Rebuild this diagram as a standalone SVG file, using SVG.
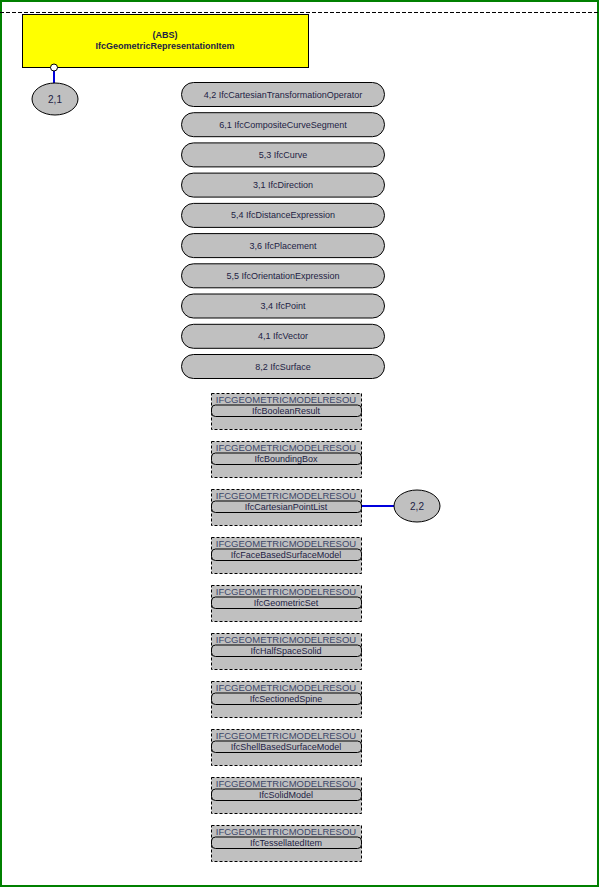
<svg xmlns="http://www.w3.org/2000/svg" width="600" height="888" viewBox="0 0 600 888">
<style>
text{font-family:"Liberation Sans",Arial,sans-serif;font-size:9px;fill:#222244;text-anchor:middle}
.pill{fill:#c0c0c0;stroke:#000;stroke-width:1}
.grp{fill:#c0c0c0;stroke:#000;stroke-width:1;stroke-dasharray:3,2}
.hdr{font-size:9.5px;fill:#3c4668}
.ell{fill:#c0c0c0;stroke:#000;stroke-width:1}
.etx{font-size:10px}
.con{stroke:#0000dd;stroke-width:2;fill:none}
</style>
<rect x="1" y="1" width="597" height="885" fill="#fff" stroke="#008000" stroke-width="2"/>
<line x1="0" y1="12.5" x2="598" y2="12.5" stroke="#000" stroke-dasharray="4,2"/>
<g id="connectors">
<line class="con" x1="54" y1="71" x2="54" y2="84"/>
<line class="con" x1="362" y1="506" x2="394" y2="506"/>
</g>
<g id="IfcGeometricRepresentationItem">
<rect x="22.5" y="14.5" width="286" height="53" fill="#ffff00" stroke="#000"/>
<text x="165" y="38" font-weight="bold">(ABS)</text>
<text x="165" y="49" font-weight="bold">IfcGeometricRepresentationItem</text>
<circle cx="54" cy="67.5" r="3.5" fill="#fff" stroke="#000"/>
</g>
<g id="ref21"><ellipse class="ell" cx="55" cy="99" rx="23" ry="16"/><text class="etx" x="55" y="102.5">2,1</text></g>
<g id="p1"><rect class="pill" x="181.5" y="82.5" width="203" height="24" rx="12"/><text x="283" y="97.5">4,2 IfcCartesianTransformationOperator</text></g>
<g id="p2"><rect class="pill" x="181.5" y="112.7" width="203" height="24" rx="12"/><text x="283" y="127.7">6,1 IfcCompositeCurveSegment</text></g>
<g id="p3"><rect class="pill" x="181.5" y="142.9" width="203" height="24" rx="12"/><text x="283" y="157.9">5,3 IfcCurve</text></g>
<g id="p4"><rect class="pill" x="181.5" y="173.1" width="203" height="24" rx="12"/><text x="283" y="188.1">3,1 IfcDirection</text></g>
<g id="p5"><rect class="pill" x="181.5" y="203.4" width="203" height="24" rx="12"/><text x="283" y="218.4">5,4 IfcDistanceExpression</text></g>
<g id="p6"><rect class="pill" x="181.5" y="233.6" width="203" height="24" rx="12"/><text x="283" y="248.6">3,6 IfcPlacement</text></g>
<g id="p7"><rect class="pill" x="181.5" y="263.8" width="203" height="24" rx="12"/><text x="283" y="278.8">5,5 IfcOrientationExpression</text></g>
<g id="p8"><rect class="pill" x="181.5" y="294" width="203" height="24" rx="12"/><text x="283" y="309">3,4 IfcPoint</text></g>
<g id="p9"><rect class="pill" x="181.5" y="324.3" width="203" height="24" rx="12"/><text x="283" y="339.3">4,1 IfcVector</text></g>
<g id="p10"><rect class="pill" x="181.5" y="354.5" width="203" height="24" rx="12"/><text x="283" y="369.5">8,2 IfcSurface</text></g>
<g id="g1" transform="translate(0,393)"><rect class="grp" x="211.5" y="0.5" width="150" height="36"/><text class="hdr" x="286" y="9.5">IFCGEOMETRICMODELRESOU</text><rect class="pill" x="211.5" y="12" width="150" height="11.5" rx="4"/><text x="286" y="21">IfcBooleanResult</text></g>
<g id="g2" transform="translate(0,441)"><rect class="grp" x="211.5" y="0.5" width="150" height="36"/><text class="hdr" x="286" y="9.5">IFCGEOMETRICMODELRESOU</text><rect class="pill" x="211.5" y="12" width="150" height="11.5" rx="4"/><text x="286" y="21">IfcBoundingBox</text></g>
<g id="g3" transform="translate(0,489)"><rect class="grp" x="211.5" y="0.5" width="150" height="36"/><text class="hdr" x="286" y="9.5">IFCGEOMETRICMODELRESOU</text><rect class="pill" x="211.5" y="12" width="150" height="11.5" rx="4"/><text x="286" y="21">IfcCartesianPointList</text></g>
<g id="g4" transform="translate(0,537)"><rect class="grp" x="211.5" y="0.5" width="150" height="36"/><text class="hdr" x="286" y="9.5">IFCGEOMETRICMODELRESOU</text><rect class="pill" x="211.5" y="12" width="150" height="11.5" rx="4"/><text x="286" y="21">IfcFaceBasedSurfaceModel</text></g>
<g id="g5" transform="translate(0,585)"><rect class="grp" x="211.5" y="0.5" width="150" height="36"/><text class="hdr" x="286" y="9.5">IFCGEOMETRICMODELRESOU</text><rect class="pill" x="211.5" y="12" width="150" height="11.5" rx="4"/><text x="286" y="21">IfcGeometricSet</text></g>
<g id="g6" transform="translate(0,633)"><rect class="grp" x="211.5" y="0.5" width="150" height="36"/><text class="hdr" x="286" y="9.5">IFCGEOMETRICMODELRESOU</text><rect class="pill" x="211.5" y="12" width="150" height="11.5" rx="4"/><text x="286" y="21">IfcHalfSpaceSolid</text></g>
<g id="g7" transform="translate(0,681)"><rect class="grp" x="211.5" y="0.5" width="150" height="36"/><text class="hdr" x="286" y="9.5">IFCGEOMETRICMODELRESOU</text><rect class="pill" x="211.5" y="12" width="150" height="11.5" rx="4"/><text x="286" y="21">IfcSectionedSpine</text></g>
<g id="g8" transform="translate(0,729)"><rect class="grp" x="211.5" y="0.5" width="150" height="36"/><text class="hdr" x="286" y="9.5">IFCGEOMETRICMODELRESOU</text><rect class="pill" x="211.5" y="12" width="150" height="11.5" rx="4"/><text x="286" y="21">IfcShellBasedSurfaceModel</text></g>
<g id="g9" transform="translate(0,777)"><rect class="grp" x="211.5" y="0.5" width="150" height="36"/><text class="hdr" x="286" y="9.5">IFCGEOMETRICMODELRESOU</text><rect class="pill" x="211.5" y="12" width="150" height="11.5" rx="4"/><text x="286" y="21">IfcSolidModel</text></g>
<g id="g10" transform="translate(0,825)"><rect class="grp" x="211.5" y="0.5" width="150" height="36"/><text class="hdr" x="286" y="9.5">IFCGEOMETRICMODELRESOU</text><rect class="pill" x="211.5" y="12" width="150" height="11.5" rx="4"/><text x="286" y="21">IfcTessellatedItem</text></g>
<g id="ref22"><ellipse class="ell" cx="417" cy="506" rx="23" ry="16"/><text class="etx" x="417" y="509.5">2,2</text></g>
</svg>
